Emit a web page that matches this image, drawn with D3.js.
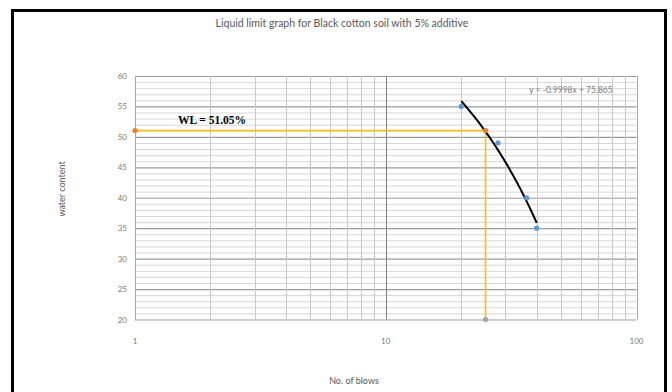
<!DOCTYPE html>
<html><head><meta charset="utf-8">
<script src="https://cdn.jsdelivr.net/npm/d3@7"></script>
<style>body{margin:0;background:#fff;} svg{display:block;}</style>
</head><body>
<svg id="c" width="672" height="392"></svg>
<script>
const blows = [20, 28, 36.5, 40];
const water = [55, 49, 40, 35];
const wlBlows = 25;
const wlValue = 51.05;
const trendSlope = -0.9998, trendIntercept = 75.865;
const yTicks = [20, 25, 30, 35, 40, 45, 50, 55, 60];
const xTicks = [1, 10, 100];
const title = "Liquid limit graph for Black cotton soil with 5% additive";
const eqLabel = "y = -0.9998x + 75.865";
const wlLabel = "WL = 51.05%";

const svg = d3.select("#c");
const x = d3.scaleLog().domain([1, 100]).range([135, 636.5]);
const y = d3.scaleLinear().domain([20, 60]).range([319.5, 76]);

// frame
svg.append("path").attr("d", "M12.5,400 V10.5 H665.5 V400").attr("fill", "none").attr("stroke", "#000").attr("stroke-width", 3);

const g = svg.append("g");
// horizontal grid (every unit)
const hMinor = d3.range(20, 61, 1);
g.selectAll(".hg").data(hMinor).join("line")
  .attr("x1", x(1)).attr("x2", x(100))
  .attr("y1", d => y(d) + 0.5).attr("y2", d => y(d) + 0.5)
  .attr("stroke", d => d % 5 === 0 ? "#9a9a9a" : "#d6d6d6")
  .attr("stroke-width", d => d % 5 === 0 ? 1.2 : 1);
// vertical grid
const vLines = [];
[1, 10].forEach(b => { for (let k = 1; k <= 10; k++) vLines.push(b * k); });
const vUnique = Array.from(new Set(vLines));
g.selectAll(".vg").data(vUnique).join("line")
  .attr("x1", d => Math.round(x(d)) + 0.5).attr("x2", d => Math.round(x(d)) + 0.5)
  .attr("y1", y(60)).attr("y2", y(20))
  .attr("stroke", d => (d === 10) ? "#7f7f7f" : (d === 1 || d === 100) ? "#a6a6a6" : "#c8c8c8")
  .attr("stroke-width", 1);

// axes tick labels
const tickFont = "Lato, 'Open Sans', sans-serif";
g.selectAll(".yt").data(yTicks).join("text")
  .attr("x", 127).attr("y", d => y(d) + 3)
  .attr("text-anchor", "end").attr("font-family", tickFont).attr("font-size", 8)
  .attr("fill", "#7a7a7a").text(d => d);
g.selectAll(".xt").data(xTicks).join("text")
  .attr("x", d => x(d)).attr("y", 344)
  .attr("text-anchor", "middle").attr("font-family", tickFont).attr("font-size", 8)
  .attr("fill", "#7a7a7a").text(d => d);

// WL guide lines
g.append("line").attr("x1", x(1)).attr("x2", x(wlBlows)).attr("y1", y(wlValue)).attr("y2", y(wlValue))
  .attr("stroke", "#FFC000").attr("stroke-width", 1.6);
g.append("line").attr("x1", x(wlBlows)).attr("x2", x(wlBlows)).attr("y1", y(wlValue)).attr("y2", y(20))
  .attr("stroke", "#FFC000").attr("stroke-width", 1.6);

// trendline
const tx = d3.range(0, 41).map(i => blows[0] + (blows[3] - blows[0]) * i / 40);
const line = d3.line().x(d => x(d)).y(d => y(trendSlope * d + trendIntercept));
g.append("path").attr("d", line(tx)).attr("fill", "none").attr("stroke", "#000").attr("stroke-width", 2);

// points
g.selectAll(".pt").data(blows.map((b, i) => [b, water[i]])).join("circle")
  .attr("cx", d => x(d[0])).attr("cy", d => y(d[1])).attr("r", 2.6).attr("fill", "#5B9BD5");
g.append("circle").attr("cx", x(1)).attr("cy", y(wlValue)).attr("r", 2.6).attr("fill", "#ED7D31");
g.append("circle").attr("cx", x(wlBlows)).attr("cy", y(wlValue)).attr("r", 2.6).attr("fill", "#ED7D31");
g.append("circle").attr("cx", x(wlBlows)).attr("cy", y(20)).attr("r", 2.6).attr("fill", "#A5A5A5");

// texts
svg.append("text").attr("x", 342).attr("y", 27).attr("text-anchor", "middle")
  .attr("font-family", tickFont).attr("font-size", 10.5).attr("fill", "#595959").text(title);
svg.append("text").attr("x", 571).attr("y", 93).attr("text-anchor", "middle")
  .attr("font-family", tickFont).attr("font-size", 8.5).attr("fill", "#7a7a7a").text(eqLabel);
svg.append("text").attr("x", 212).attr("y", 124).attr("text-anchor", "middle")
  .attr("font-family", "'Liberation Serif', 'DejaVu Serif', serif").attr("font-weight", "bold")
  .attr("font-size", 11.5).attr("fill", "#000").text(wlLabel);
svg.append("text").attr("transform", "translate(65,189) rotate(-90)").attr("text-anchor", "middle")
  .attr("font-family", tickFont).attr("font-size", 9).attr("fill", "#595959").text("water content");
svg.append("text").attr("x", 354).attr("y", 384).attr("text-anchor", "middle")
  .attr("font-family", tickFont).attr("font-size", 9).attr("fill", "#595959").text("No. of blows");
</script>
</body></html>
